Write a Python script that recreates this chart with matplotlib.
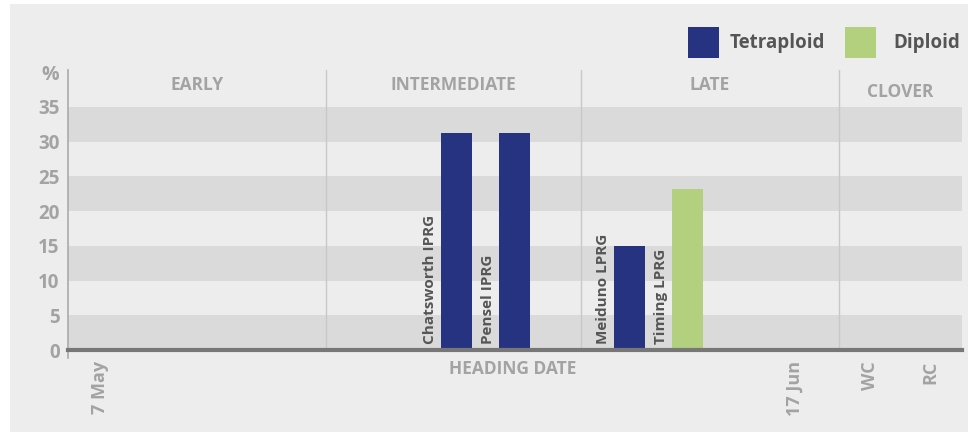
import matplotlib
matplotlib.use("Agg")
import matplotlib.pyplot as plt
from matplotlib.patches import Rectangle

# ---- data ----
varieties = ["Chatsworth IPRG", "Pensel IPRG", "Meiduno LPRG", "Timing LPRG"]
values = [31.3, 31.3, 14.9, 23.2]
ploidy = ["Tetraploid", "Tetraploid", "Tetraploid", "Diploid"]
slots = [7, 8, 10, 11]  # position along heading-date scale (slot units)
sections = ["EARLY", "INTERMEDIATE", "LATE", "CLOVER"]
yticks = [0, 5, 10, 15, 20, 25, 30, 35]
xlabels = ["7 May", "17 Jun", "WC", "RC"]

colors = {"Tetraploid": "#263381", "Diploid": "#b2d07e"}
BG = "#ededed"
BAND = "#dadada"
TXT_LIGHT = "#a3a3a3"
TXT_DARK = "#555555"
FONT = ["Open Sans", "DejaVu Sans"]
plt.rcParams["font.family"] = FONT

W, H = 973, 437
fig = plt.figure(figsize=(W / 100, H / 100), dpi=100)
fig.patch.set_facecolor("white")
fig.patches.append(Rectangle((10 / W, 1 - 432 / H), 958 / W, 428 / H,
                             transform=fig.transFigure, facecolor=BG,
                             edgecolor="none", zorder=-10))

x0, x1 = 68, 962
ytop, ybot = 70, 350
ax = fig.add_axes([x0 / W, 1 - ybot / H, (x1 - x0) / W, (ybot - ytop) / H])
ax.set_facecolor(BG)
xmin, xmax = 0.267, 0.267 + (x1 - x0) / 57.7
ax.set_xlim(xmin, xmax)
ax.set_ylim(0, 40.3)

# bands
for lo in [0, 10, 20, 30]:
    ax.axhspan(lo, lo + 5, color=BAND, zorder=0, lw=0)

# section separators
seps = [4.74, 9.16, 13.63]
for s in seps:
    ax.axvline(s, color="#c8c8c8", lw=1, zorder=1)
sec_centers = [(xmin + seps[0]) / 2, (seps[0] + seps[1]) / 2,
               (seps[1] + seps[2]) / 2, (seps[2] + xmax) / 2]
sec_y = [38.2, 38.2, 38.2, 37.2]
for name, cx, cy in zip(sections, sec_centers, sec_y):
    ax.text(cx, cy, name, ha="center", va="center", fontsize=12.5,
            fontweight="bold", color=TXT_LIGHT, family=FONT)

# bars
bw = 0.54
for v, val, p, sx in zip(varieties, values, ploidy, slots):
    ax.bar(sx, val, width=bw, color=colors[p], zorder=3)
    ax.text(sx - bw / 2 - 0.19, 0.9, v, rotation=90, ha="center", va="bottom",
            fontsize=11, fontweight="bold", color=TXT_DARK, zorder=4)

# axes styling
for sp in ["top", "right"]:
    ax.spines[sp].set_visible(False)
ax.spines["bottom"].set_color("#777777")
ax.spines["bottom"].set_linewidth(3)
ax.spines["bottom"].set_zorder(5)
ax.spines["left"].set_color("#aaaaaa")
ax.spines["left"].set_linewidth(1.2)
ax.spines["left"].set_bounds(-1.2, 40.3)
ax.set_xticks([])
ax.set_yticks(yticks)
ax.set_yticklabels([str(t) for t in yticks], fontsize=13.5, fontweight="bold",
                   color=TXT_LIGHT)
ax.tick_params(axis="y", length=0, pad=6)
fig.text(59 / W, 1 - 75 / H, "%", ha="right", va="center",
         fontsize=14, fontweight="bold", color=TXT_LIGHT)

# x labels
def px2x(px):
    return xmin + (px - x0) / 57.7

xl_pos = [px2x(100), px2x(795), px2x(870), px2x(930)]
for lab, xp in zip(xlabels, xl_pos):
    ax.text(xp, -1.6, lab, rotation=90, ha="center", va="top", fontsize=13,
            fontweight="bold", color=TXT_LIGHT, clip_on=False)
ax.text(px2x(513), -2.8, "HEADING DATE", ha="center", va="center",
        fontsize=12.5, fontweight="bold", color=TXT_LIGHT, clip_on=False)

# legend
for name, sqx, tx in [("Tetraploid", 688, 730), ("Diploid", 845, 893)]:
    fig.patches.append(Rectangle((sqx / W, 1 - 58 / H), 31 / W, 31 / H,
                                 transform=fig.transFigure,
                                 facecolor=colors[name], edgecolor="none"))
    fig.text(tx / W, 1 - 43 / H, name, ha="left", va="center", fontsize=13.5,
             fontweight="bold", color=TXT_DARK)

fig.savefig("out.png", dpi=100, facecolor="white")
